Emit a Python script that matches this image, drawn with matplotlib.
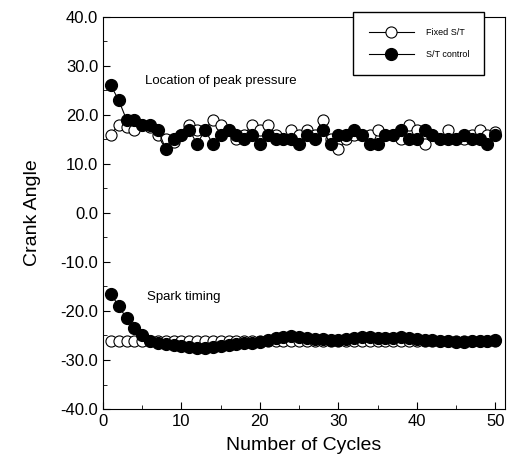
import matplotlib.pyplot as plt
from matplotlib.ticker import MultipleLocator, FormatStrFormatter

plt.rcParams["font.family"] = ["Liberation Sans", "DejaVu Sans"]

cycles = list(range(1, 51))

peak_fixed = [16, 18, 17.5, 17, 18, 17.5, 16, 15, 14.5, 16,
              18, 17, 17, 19, 18, 17, 15, 16, 18, 17,
              18, 16, 15, 17, 16, 17, 16, 19, 15, 13,
              15, 16, 16, 16, 17, 16, 16, 15, 18, 17,
              14, 16, 15, 17, 15, 15, 16, 17, 16, 16.5]
peak_control = [26, 23, 19, 19, 18, 18, 17, 13, 15, 16,
                17, 14, 17, 14, 16, 17, 16, 15, 16, 14,
                16, 15, 15, 15, 14, 16, 15, 17, 14, 16,
                16, 17, 16, 14, 14, 16, 16, 17, 15, 15,
                17, 16, 15, 15, 15, 16, 15, 15, 14, 16]
spark_fixed = [-26.2] * 50
spark_control = [-16.5, -19, -21.5, -23.5, -25, -26.2, -26.5, -26.8, -27, -27.2,
                 -27.3, -27.5, -27.5, -27.3, -27.2, -27, -26.8, -26.6, -26.5, -26.3,
                 -26, -25.6, -25.3, -25.2, -25.3, -25.5, -25.7, -25.8, -25.9, -26,
                 -25.8, -25.5, -25.3, -25.3, -25.5, -25.6, -25.5, -25.4, -25.5, -25.7,
                 -25.9, -26, -26.1, -26.2, -26.3, -26.3, -26.2, -26.1, -26.1, -26]

fig = plt.figure(figsize=(5.11, 4.68), dpi=100)
ax = fig.add_axes([0.2016, 0.126, 0.786, 0.838])

open_style = dict(color="black", linewidth=0.8, marker="o", markersize=8,
                  markerfacecolor="white", markeredgecolor="black", markeredgewidth=0.8)
fill_style = dict(color="black", linewidth=0.8, marker="o", markersize=8.5,
                  markerfacecolor="black", markeredgecolor="black")

ax.plot(cycles, peak_fixed, label="Fixed S/T", **open_style)
ax.plot(cycles, spark_fixed, **open_style)
ax.plot(cycles, peak_control, label="S/T control", **fill_style)
ax.plot(cycles, spark_control, **fill_style)

ax.text(5.4, 27, "Location of peak pressure", fontsize=9.5, va="center")
ax.text(5.6, -17.2, "Spark timing", fontsize=9.5, va="center")

ax.set_xlim(0, 51.2)
ax.set_ylim(-40, 40)
ax.xaxis.set_major_locator(MultipleLocator(10))
ax.xaxis.set_minor_locator(MultipleLocator(5))
ax.yaxis.set_major_locator(MultipleLocator(10))
ax.yaxis.set_minor_locator(MultipleLocator(5))
ax.yaxis.set_major_formatter(FormatStrFormatter("%.1f"))
ax.tick_params(which="both", direction="in", labelsize=12)
ax.tick_params(which="major", length=5)
ax.tick_params(which="minor", length=3)

ax.set_xlabel("Number of Cycles", fontsize=14, labelpad=6)
ax.set_ylabel("Crank Angle", fontsize=14, labelpad=14)

ax.legend(loc="upper left", bbox_to_anchor=(0.612, 1.023), fontsize=6.5,
          frameon=True, fancybox=False, edgecolor="black", framealpha=1,
          handlelength=5, borderpad=1.7, labelspacing=1.5, handletextpad=1.3)

fig.savefig("out.png", dpi=100)
